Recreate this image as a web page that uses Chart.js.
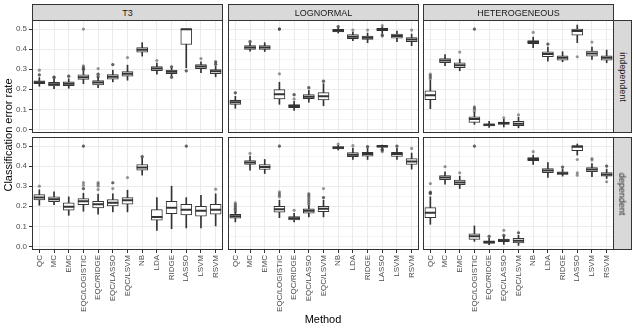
<!DOCTYPE html>
<html>
<head>
<meta charset="utf-8">
<script src="https://cdn.jsdelivr.net/npm/chart.js@4.4.1/dist/chart.umd.min.js"></script>
<style>
  html, body { margin: 0; padding: 0; background: #fff; }
  #wrap { position: relative; width: 636px; height: 330px; overflow: hidden; background: #fff;
          font-family: "Liberation Sans", Arial, sans-serif; }
  canvas { position: absolute; }
  .strip { position: absolute; box-sizing: border-box; background: #D9D9D9; border: 1px solid #333;
           color: #1A1A1A; font-size: 9px; display: flex; align-items: center; justify-content: center; overflow: visible; }
  .vstrip span { display: block; white-space: nowrap; transform: rotate(90deg); line-height: 10px; }
  .title { position: absolute; color: #000; font-size: 11px; line-height: 12px; text-align: center; white-space: nowrap; }
</style>
</head>
<body>
<div id="wrap"></div>
<script>
// ---------------- data ----------------
const methods = ['QC','MC','EMC','EQC/LOGISTIC','EQC/RIDGE','EQC/LASSO','EQC/LSVM','NB','LDA','RIDGE','LASSO','LSVM','RSVM'];
const distributions = ['T3','LOGNORMAL','HETEROGENEOUS'];
const designs = ['independent','dependent'];
const yTickValues = [0, 0.05, 0.1, 0.15, 0.2, 0.25, 0.3, 0.35, 0.4, 0.45, 0.5];
const yTickLabels = ['0.0','0.1','0.2','0.3','0.4','0.5'];
const xTitle = 'Method';
const yTitle = 'Classification error rate';

// box stats per method: [lower whisker, Q1, median, Q3, upper whisker]
const T3_IND = [
  [0.215,0.228,0.235,0.242,0.258],[0.203,0.217,0.225,0.234,0.250],[0.205,0.218,0.228,0.237,0.252],
  [0.228,0.249,0.260,0.272,0.290],[0.208,0.222,0.233,0.243,0.258],[0.237,0.250,0.262,0.273,0.295],
  [0.245,0.265,0.277,0.288,0.320],[0.365,0.385,0.397,0.407,0.432],[0.275,0.292,0.303,0.313,0.330],
  [0.268,0.278,0.287,0.295,0.305],[0.307,0.423,0.499,0.500,0.500],[0.283,0.303,0.313,0.323,0.337],
  [0.262,0.278,0.290,0.298,0.315]];
const T3_IND_OUT = [[0.272,0.272,0.295],[0.258,0.258,0.262],[0.265,0.265],[0.298,0.298,0.305,0.310,0.317,0.5],
  [0.262,0.262,0.275,0.275,0.303],[0.323,0.323],[0.358],[],[0.343],[0.260,0.260,0.312,0.312],[0.292,0.292],[0.353],
  [0.325,0.325,0.337,0.337]];

const LOG_IND = [
  [0.105,0.125,0.135,0.145,0.165],[0.390,0.398,0.408,0.417,0.430],[0.388,0.398,0.408,0.417,0.432],
  [0.125,0.152,0.175,0.198,0.235],[0.095,0.108,0.117,0.123,0.140],[0.135,0.153,0.163,0.173,0.195],
  [0.118,0.147,0.165,0.183,0.228],[0.480,0.485,0.492,0.498,0.505],[0.442,0.452,0.462,0.472,0.485],
  [0.432,0.448,0.457,0.465,0.480],[0.478,0.492,0.498,0.503,0.510],[0.437,0.455,0.465,0.475,0.490],
  [0.417,0.437,0.448,0.458,0.475]];
const LOG_IND_OUT = [[0.182,0.182],[0.438,0.438],[],[0.277,0.5,0.5,0.5],[0.152,0.173,0.173],[0.208,0.208],[0.240,0.240],
  [0.512,0.512],[0.495],[0.495],[0.465,0.470,0.470,0.517],[],[0.495]];

const HET_IND = [
  [0.103,0.148,0.170,0.192,0.245],[0.317,0.332,0.343,0.353,0.373],[0.292,0.308,0.320,0.332,0.350],
  [0.025,0.035,0.052,0.062,0.085],[0.010,0.017,0.023,0.028,0.040],[0.012,0.025,0.032,0.037,0.050],
  [0.008,0.018,0.028,0.040,0.060],[0.407,0.427,0.435,0.443,0.460],[0.340,0.362,0.375,0.387,0.410],
  [0.337,0.345,0.357,0.367,0.387],[0.432,0.470,0.490,0.500,0.520],[0.348,0.365,0.378,0.390,0.410],
  [0.332,0.345,0.357,0.367,0.395]];
const HET_IND_OUT = [[0.253,0.260,0.268,0.275],[],[0.385],[0.090,0.100,0.107,0.112,0.5,0.5],[],[0.058],[0.072],
  [0.483],[0.425,0.425],[],[0.362],[0.435],[]];

const T3_DEP = [
  [0.205,0.232,0.243,0.258,0.282],[0.208,0.223,0.235,0.247,0.272],[0.155,0.180,0.197,0.217,0.247],
  [0.175,0.208,0.225,0.238,0.265],[0.160,0.192,0.210,0.225,0.260],[0.172,0.202,0.218,0.233,0.262],
  [0.172,0.210,0.230,0.243,0.280],[0.355,0.380,0.393,0.408,0.440],[0.080,0.130,0.147,0.183,0.243],
  [0.088,0.163,0.193,0.225,0.300],[0.092,0.157,0.183,0.210,0.243],[0.092,0.150,0.177,0.200,0.255],
  [0.102,0.160,0.183,0.210,0.262]];
const T3_DEP_OUT = [[0.300],[],[],[0.288,0.288,0.305,0.318,0.5,0.5],[0.283,0.300,0.310,0.318],[0.288,0.317,0.317],[0.343],
  [0.447,0.447],[],[],[0.5,0.5],[],[0.285]];

const LOG_DEP = [
  [0.122,0.140,0.150,0.160,0.170],[0.380,0.408,0.418,0.427,0.450],[0.363,0.383,0.395,0.407,0.433],
  [0.143,0.170,0.185,0.200,0.230],[0.122,0.132,0.140,0.148,0.165],[0.147,0.165,0.177,0.187,0.205],
  [0.147,0.173,0.187,0.200,0.230],[0.480,0.485,0.492,0.497,0.503],[0.433,0.447,0.457,0.467,0.490],
  [0.433,0.450,0.460,0.468,0.488],[0.488,0.493,0.500,0.502,0.505],[0.433,0.448,0.460,0.468,0.490],
  [0.385,0.408,0.423,0.437,0.465]];
const LOG_DEP_OUT = [[0.172,0.178,0.185,0.190,0.197,0.203,0.210,0.217],[0.463],[],[0.247,0.255,0.263,0.272,0.5,0.5],[0.180],
  [0.210,0.218,0.226,0.234,0.242,0.250,0.257,0.263],[0.243,0.243,0.288],[0.510],[0.502],[0.497,0.497],
  [0.472,0.478,0.483,0.483],[0.5,0.5],[0.488]];

const HET_DEP = [
  [0.110,0.143,0.168,0.193,0.247],[0.310,0.333,0.343,0.353,0.372],[0.288,0.308,0.318,0.330,0.350],
  [0.025,0.035,0.050,0.063,0.102],[0.008,0.015,0.022,0.028,0.040],[0.010,0.023,0.030,0.037,0.050],
  [0.005,0.017,0.028,0.040,0.055],[0.408,0.427,0.435,0.443,0.455],[0.343,0.367,0.378,0.388,0.417],
  [0.350,0.358,0.365,0.372,0.385],[0.455,0.477,0.497,0.502,0.510],[0.347,0.372,0.383,0.393,0.413],
  [0.338,0.350,0.358,0.368,0.385]];
const HET_DEP_OUT = [[0.263,0.263,0.270,0.270,0.313],[0.397],[0.367],[0.5,0.5],[0.050,0.050],[0.055,0.055,0.080],[0.068,0.068],
  [0.472],[],[0.395,0.395],[0.433,0.367,0.355],[0.430,0.438],[0.400,0.400,0.322]];

const PANELS = [
  [[T3_IND, T3_IND_OUT], [LOG_IND, LOG_IND_OUT], [HET_IND, HET_IND_OUT]],
  [[T3_DEP, T3_DEP_OUT], [LOG_DEP, LOG_DEP_OUT], [HET_DEP, HET_DEP_OUT]]
];

// ---------------- layout ----------------
const PX = [32, 228, 423], PW = 191;
const PY = [20, 137], PH = 113;
const STRIP_TOP = 4, STRIP_H = 17, RSTRIP_W = 19;

Chart.defaults.font.family = '"Liberation Sans", Arial, sans-serif';
Chart.defaults.color = '#4D4D4D';

const wrap = document.getElementById('wrap');

const isMajor = v => Math.abs(v * 10 - Math.round(v * 10)) < 1e-6;
const labelFor = v => yTickLabels[Math.round(v * 10)];

const framePlugin = {
  id: 'frame',
  afterDraw(chart) {
    const a = chart.chartArea, ctx = chart.ctx;
    ctx.save();
    ctx.strokeStyle = '#333333';
    ctx.lineWidth = 1;
    ctx.strokeRect(Math.round(a.left) + 0.5, Math.round(a.top) + 0.5,
                   Math.round(a.right - a.left) - 1, Math.round(a.bottom - a.top) - 1);
    ctx.restore();
  }
};

function makePanel(r, c) {
  const [stats, outs] = PANELS[r][c];
  const L = c === 0 ? 32 : 1, R = 1, T = 1, B = r === 1 ? 75 : 1;
  const cv = document.createElement('canvas');
  const w = L + PW + R, h = T + PH + B;
  cv.width = w; cv.height = h;
  cv.style.width = w + 'px'; cv.style.height = h + 'px';
  cv.style.left = (PX[c] - L) + 'px';
  cv.style.top = (PY[r] - T) + 'px';
  wrap.appendChild(cv);

  const outlierPts = [];
  outs.forEach((arr, i) => arr.forEach(v => outlierPts.push({ x: methods[i], y: v })));

  new Chart(cv, {
    type: 'bar',
    data: {
      labels: methods,
      datasets: [
        { type: 'line', label: 'outliers', data: outlierPts, showLine: false, order: 0,
          pointRadius: 1.6, pointBackgroundColor: 'rgba(51,51,51,0.5)', pointBorderWidth: 0,
          pointBorderColor: 'rgba(0,0,0,0)' },
        { type: 'line', label: 'median', data: stats.map(s => s[2]), showLine: false, order: 1,
          pointStyle: 'line', pointRadius: 5.5, pointBorderWidth: 2, pointBorderColor: '#333333',
          borderColor: '#333333' },
        { type: 'bar', label: 'box', data: stats.map(s => [s[1], s[3]]), order: 2, grouped: false,
          barThickness: 11, backgroundColor: '#ffffff', borderColor: '#333333', borderWidth: 1,
          borderSkipped: false },
        { type: 'bar', label: 'whisker', data: stats.map(s => [s[0], s[4]]), order: 3, grouped: false,
          barThickness: 1, backgroundColor: '#333333', borderWidth: 0 }
      ]
    },
    options: {
      responsive: false,
      maintainAspectRatio: false,
      animation: false,
      devicePixelRatio: 1,
      events: [],
      layout: { autoPadding: false, padding: { left: c === 0 ? 0 : 1, right: 1, top: 1, bottom: r === 1 ? 0 : 1 } },
      plugins: { legend: { display: false }, tooltip: { enabled: false } },
      scales: {
        x: {
          type: 'category', offset: true,
          grid: { offset: false, color: '#EBEBEB', lineWidth: 1, drawTicks: r === 1, tickLength: 3,
                  tickColor: '#333333', tickWidth: 1 },
          border: { display: false },
          ticks: { display: r === 1, autoSkip: false, minRotation: 90, maxRotation: 90, padding: 2,
                   color: '#4D4D4D', font: { size: 8 } },
          afterFit(s) { s.height = B === 1 ? 0 : B; s.paddingLeft = 0; s.paddingRight = 0; }
        },
        y: {
          type: 'linear', min: -0.018, max: 0.545,
          afterBuildTicks(s) { s.ticks = yTickValues.map(v => ({ value: v })); },
          grid: {
            color: '#EBEBEB',
            lineWidth: ctx => (ctx.tick && !isMajor(ctx.tick.value)) ? 0.5 : 1,
            tickColor: ctx => (ctx.tick && isMajor(ctx.tick.value)) ? '#333333' : 'rgba(0,0,0,0)',
            drawTicks: c === 0, tickLength: 3, tickWidth: 1
          },
          border: { display: false },
          ticks: { display: c === 0, padding: 2, color: '#4D4D4D', font: { size: 8 },
                   callback: v => isMajor(v) ? labelFor(v) : '' },
          afterFit(s) { s.width = c === 0 ? 32 : 0; s.paddingTop = 0; s.paddingBottom = 0; }
        }
      }
    },
    plugins: [framePlugin]
  });
}

for (let r = 0; r < 2; r++) for (let c = 0; c < 3; c++) makePanel(r, c);

// strips (top: distributions)
distributions.forEach((d, c) => {
  const s = document.createElement('div');
  s.className = 'strip';
  s.style.left = PX[c] + 'px'; s.style.top = STRIP_TOP + 'px';
  s.style.width = PW + 'px'; s.style.height = STRIP_H + 'px';
  s.textContent = d;
  wrap.appendChild(s);
});
// strips (right: designs)
designs.forEach((d, r) => {
  const s = document.createElement('div');
  s.className = 'strip vstrip';
  s.style.left = (PX[2] + PW - 1) + 'px'; s.style.top = PY[r] + 'px';
  s.style.width = RSTRIP_W + 'px'; s.style.height = PH + 'px';
  const sp = document.createElement('span'); sp.textContent = d; s.appendChild(sp);
  wrap.appendChild(s);
});

// axis titles
const xt = document.createElement('div');
xt.className = 'title'; xt.textContent = xTitle;
xt.style.left = (PX[0] + (PX[2] + PW - PX[0]) / 2 - 50) + 'px'; xt.style.width = '100px';
xt.style.top = '313px';
wrap.appendChild(xt);

const yt = document.createElement('div');
yt.className = 'title'; yt.textContent = yTitle;
yt.style.width = '200px';
yt.style.left = (8 - 100) + 'px';
yt.style.top = ((PY[0] + PY[1] + PH) / 2 - 6) + 'px';
yt.style.transform = 'rotate(-90deg)';
wrap.appendChild(yt);
</script>
</body>
</html>
